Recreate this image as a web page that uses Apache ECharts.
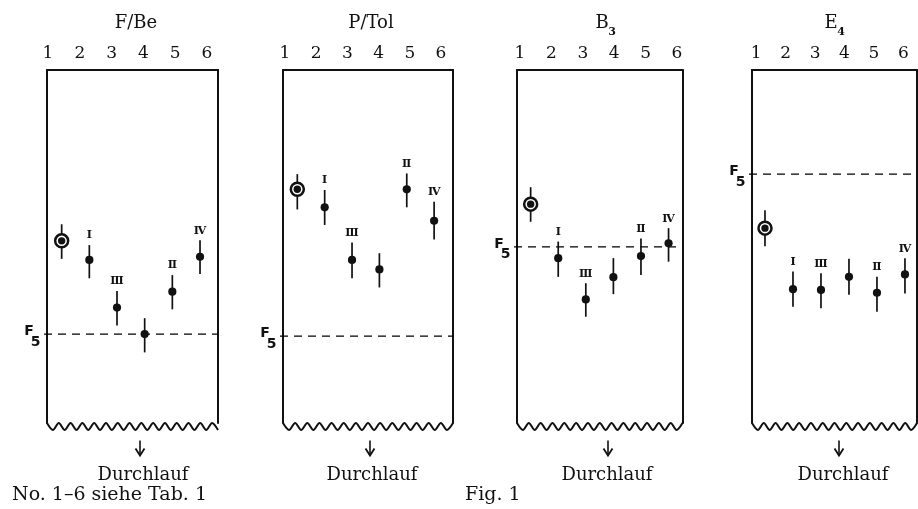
<!DOCTYPE html>
<html><head><meta charset="utf-8">
<script src="https://cdn.jsdelivr.net/npm/echarts@6/dist/echarts.min.js"></script>
<style>html,body{margin:0;padding:0;background:#fff}#c{width:918px;height:509px}</style>
</head><body><div id="c"></div>
<script>
// ---- data (relative scale 0..100, frame bottom = 0, frame top = 100)
const runLabels = ['1', '2', '3', '4', '5', '6'];
const runs = [1, 2, 3, 4, 5, 6];
const romanLabels = ['', 'Ⅰ', 'Ⅲ', '', 'Ⅱ', 'Ⅳ'];
const markerKinds = ['ring', 'dot', 'dot', 'dot', 'dot', 'dot'];
const titleMain = ['F/Be', 'P/Tol', 'B', 'E'];
const titleSub = ['', '', '3', '4'];
const caption = 'Durchlauf';
const footLeft = 'No. 1–6 siehe Tab. 1';
const footMid = 'Fig. 1';

const fbeMean = [51.6, 46.2, 32.7, 25.2, 37.2, 47.1];
const fbeHigh = [56.3, 50.4, 37.4, 29.7, 41.9, 51.8];
const fbeLow  = [46.5, 41.0, 27.6, 20.0, 32.2, 42.2];

const ptolMean = [66.2, 61.1, 46.2, 43.5, 66.2, 57.3];
const ptolHigh = [70.5, 66.0, 51.1, 48.1, 70.7, 62.7];
const ptolLow  = [60.5, 56.1, 41.0, 38.4, 61.1, 52.0];

const b3Mean = [62.0, 46.7, 35.0, 41.3, 47.3, 50.9];
const b3High = [66.8, 51.4, 39.6, 46.7, 52.3, 55.2];
const b3Low  = [57.0, 41.4, 30.1, 36.5, 41.9, 45.7];

const e4Mean = [55.2, 37.9, 37.7, 41.4, 36.9, 42.1];
const e4High = [60.3, 42.9, 42.4, 46.5, 41.4, 46.7];
const e4Low  = [50.1, 32.9, 32.5, 36.3, 31.5, 36.7];

const f5Level = [25.2, 24.6, 49.9, 70.5];

// ---- layout (pixels) ----
const layout = [
  {left: 47,  right: 218,   xmin: 0.47,  xmax: 6.65, labLeft: 32.1,  labWidth: 190.8, titleX: 131, capX: 138, arrowX: 138},
  {left: 283, right: 453,   xmin: 0.477, xmax: 6.69, labLeft: 269.4, labWidth: 187.2, titleX: 366, capX: 367, arrowX: 368},
  {left: 517, right: 682.5, xmin: 0.505, xmax: 6.506, labLeft: 504.3, labWidth: 188.4, titleX: 597, capX: 602, arrowX: 606},
  {left: 752, right: 917,   xmin: 0.536, xmax: 6.43, labLeft: 741.5, labWidth: 186, titleX: 826, capX: 838, arrowX: 837}
];
const panels = [
  {mean: fbeMean, high: fbeHigh, low: fbeLow},
  {mean: ptolMean, high: ptolHigh, low: ptolLow},
  {mean: b3Mean, high: b3High, low: b3Low},
  {mean: e4Mean, high: e4High, low: e4Low}
];
const INK = '#111';
const SERIF = '"DejaVu Serif", "Liberation Serif", serif';
const GRID_TOP = 70, GRID_H = 353;

const chart = echarts.init(document.getElementById('c'), null, {renderer: 'canvas'});

const grid = [], xAxis = [], yAxis = [], series = [], title = [], graphic = [];

layout.forEach((L) => {
  grid.push({left: L.left, top: GRID_TOP, width: L.right - L.left, height: GRID_H, show: false});
});
layout.forEach((L) => {
  grid.push({left: L.labLeft, top: 66, width: L.labWidth, height: 1, show: false});
});
layout.forEach((L, i) => {
  xAxis.push({type: 'value', gridIndex: i, position: 'top', min: L.xmin, max: L.xmax,
    axisLine: {show: true, onZero: false, lineStyle: {color: INK, width: 2}},
    axisTick: {show: false}, axisLabel: {show: false}, splitLine: {show: false}});
});
layout.forEach((L, i) => {
  xAxis.push({type: 'category', gridIndex: 4 + i, position: 'top', data: runLabels, boundaryGap: true,
    axisLine: {show: false}, axisTick: {show: false}, splitLine: {show: false},
    axisLabel: {show: true, margin: 4, color: INK, fontFamily: SERIF, fontSize: 17}});
});
layout.forEach((L, i) => {
  yAxis.push({type: 'value', gridIndex: i, position: 'left', min: 0, max: 100,
    axisLine: {show: true, onZero: false, lineStyle: {color: INK, width: 2}},
    axisTick: {show: false}, axisLabel: {show: false}, splitLine: {show: false}});
});
layout.forEach((L, i) => {
  yAxis.push({type: 'value', gridIndex: i, position: 'right', min: 0, max: 100,
    axisLine: {show: true, onZero: false, lineStyle: {color: INK, width: 2}},
    axisTick: {show: false}, axisLabel: {show: false}, splitLine: {show: false}});
});
layout.forEach((L, i) => {
  yAxis.push({type: 'value', gridIndex: 4 + i, show: false});
});

function pointRender(params, api) {
  const x = api.value(0), v = api.value(1), lo = api.value(2), hi = api.value(3);
  const p = api.coord([x, v]);
  const pl = api.coord([x, lo]);
  const ph = api.coord([x, hi]);
  const k = params.dataIndex;
  const children = [{type: 'line', shape: {x1: p[0], y1: ph[1], x2: p[0], y2: pl[1]},
    style: {stroke: INK, lineWidth: 1.7}}];
  if (markerKinds[k] === 'ring') {
    children.push({type: 'circle', shape: {cx: p[0], cy: p[1], r: 6.5}, style: {fill: '#fff', stroke: INK, lineWidth: 2.5}});
    children.push({type: 'circle', shape: {cx: p[0], cy: p[1], r: 3.7}, style: {fill: INK}});
  } else {
    children.push({type: 'circle', shape: {cx: p[0], cy: p[1], r: 4.1}, style: {fill: INK}});
  }
  if (romanLabels[k]) {
    children.push({type: 'text', x: p[0], y: ph[1] - 4,
      style: {text: romanLabels[k], fill: INK, font: 'bold 11px "DejaVu Serif"', align: 'center', verticalAlign: 'bottom'}});
  }
  return {type: 'group', children};
}

function f5Render(params, api) {
  const cs = params.coordSys;
  const y = api.coord([1, api.value(1)])[1];
  return {type: 'group', children: [
    {type: 'line', shape: {x1: cs.x - 3, y1: y, x2: cs.x + cs.width, y2: y},
      style: {stroke: '#000', lineWidth: 1.3, lineDash: [8, 6]}},
    {type: 'text', x: cs.x - 18, y: y - 2.5,
      style: {text: 'F', fill: INK, font: 'bold 14px "DejaVu Sans"', align: 'center', verticalAlign: 'middle'}},
    {type: 'text', x: cs.x - 11.5, y: y + 8,
      style: {text: '5', fill: INK, font: 'bold 14px "DejaVu Sans"', align: 'center', verticalAlign: 'middle'}}
  ]};
}

function wavyRender(params, api) {
  const cs = params.coordSys;
  const bottom = cs.y + cs.height;
  const pts = [];
  const half = 6, amp = 7;
  const n = Math.round(cs.width / half);
  const step = cs.width / n;
  for (let j = 0; j <= n; j++) pts.push([cs.x + j * step, bottom + (j % 2 ? amp : 0)]);
  return {type: 'polyline', shape: {points: pts, smooth: 0.3},
    style: {stroke: INK, lineWidth: 2, fill: null}};
}

panels.forEach((P, i) => {
  series.push({type: 'custom', name: 'bars' + i, xAxisIndex: i, yAxisIndex: i,
    renderItem: pointRender, clip: false, silent: true, z: 3,
    data: runs.map((r, k) => [r, P.mean[k], P.low[k], P.high[k]])});
  series.push({type: 'custom', name: 'F5-' + i, xAxisIndex: i, yAxisIndex: i,
    renderItem: f5Render, clip: false, silent: true, z: 1,
    data: [[1, f5Level[i]]]});
  series.push({type: 'custom', name: 'edge' + i, xAxisIndex: i, yAxisIndex: i,
    renderItem: wavyRender, clip: false, silent: true,
    data: [[1, 0]]});
});

layout.forEach((L, i) => {
  title.push({text: titleMain[i], left: L.titleX, top: 9, textAlign: 'center',
    textStyle: {fontFamily: SERIF, fontSize: 18, fontWeight: 'normal', color: INK}});
  if (titleSub[i]) {
    title.push({text: titleSub[i], left: L.titleX + 10, top: 22, textAlign: 'center',
      textStyle: {fontFamily: SERIF, fontSize: 11, fontWeight: 'bold', color: INK}});
  }
  title.push({text: caption, left: L.capX, top: 461, textAlign: 'center',
    textStyle: {fontFamily: SERIF, fontSize: 18, fontWeight: 'normal', color: INK}});
  graphic.push({type: 'group', left: L.arrowX - 5, top: 438, children: [
    {type: 'line', shape: {x1: 5, y1: 0, x2: 5, y2: 14}, style: {stroke: INK, lineWidth: 1.6}},
    {type: 'polyline', shape: {points: [[0.5, 8], [5, 15], [9.5, 8]]}, style: {stroke: INK, lineWidth: 1.8, fill: null}}
  ]});
});
title.push({text: footLeft, left: 7, top: 481,
  textStyle: {fontFamily: SERIF, fontSize: 19, fontWeight: 'normal', color: INK}});
title.push({text: footMid, left: 460, top: 481,
  textStyle: {fontFamily: SERIF, fontSize: 19, fontWeight: 'normal', color: INK}});

chart.setOption({
  animation: false,
  backgroundColor: '#fff',
  title, grid, xAxis, yAxis, series, graphic
});
</script>
</body></html>
